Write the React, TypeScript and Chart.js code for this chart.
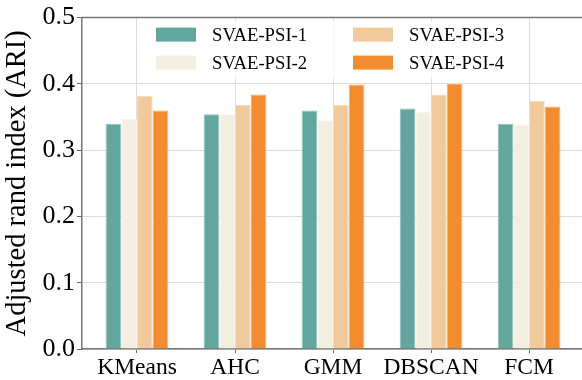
import React, { useEffect, useRef } from "react";
import { Chart, registerables } from "chart.js";

Chart.register(...registerables);

const categories = ["KMeans", "AHC", "GMM", "DBSCAN", "FCM"];
const seriesNames = ["SVAE-PSI-1", "SVAE-PSI-2", "SVAE-PSI-3", "SVAE-PSI-4"];
const psi1 = [0.340, 0.354, 0.360, 0.363, 0.340];
const psi2 = [0.347, 0.354, 0.345, 0.358, 0.338];
const psi3 = [0.382, 0.368, 0.368, 0.384, 0.374];
const psi4 = [0.360, 0.384, 0.399, 0.400, 0.366];
const yTicks = [0, 0.1, 0.2, 0.3, 0.4, 0.5];

const colors = ["#62A69E", "#F2EFE0", "#F2C99A", "#F28C30"];
const edges = ["#8CC3BD", "#F8F6EC", "#F7DAB8", "#F6AA66"];
const FONT = "'Liberation Serif', 'Times New Roman', serif";

const legendPlugin = {
  id: "customLegend",
  afterDatasetsDraw(chart: any) {
    const { ctx, chartArea } = chart;
    const l = chartArea.left;
    const t = chartArea.top;
    ctx.save();
    ctx.fillStyle = "rgba(255,255,255,0.8)";
    ctx.fillRect(l + 63, t + 3, 340, 58);
    const cols = [l + 74, l + 271];
    const rows = [t + 17, t + 45];
    const order = [
      [0, 0],
      [0, 1],
      [1, 0],
      [1, 1],
    ];
    chart.data.datasets.forEach((ds: any, i: number) => {
      const [c, r] = order[i];
      const x = cols[c];
      const y = rows[r];
      ctx.fillStyle = ds.backgroundColor;
      ctx.fillRect(x, y - 7, 40, 14);
      ctx.fillStyle = "#000";
      ctx.font = `18.7px ${FONT}`;
      ctx.textBaseline = "middle";
      ctx.textAlign = "left";
      ctx.fillText(ds.label, x + 56, y + 1);
    });
    ctx.restore();
  },
  afterDraw(chart: any) {
    const { ctx, chartArea } = chart;
    ctx.save();
    ctx.strokeStyle = "#777";
    ctx.lineWidth = 1.5;
    ctx.beginPath();
    ctx.moveTo(chartArea.left, chartArea.top);
    ctx.lineTo(chartArea.right, chartArea.top);
    ctx.stroke();
    ctx.restore();
  },
};

export default function App() {
  const ref = useRef<HTMLCanvasElement | null>(null);
  useEffect(() => {
    if (!ref.current) return;
    const all = [psi1, psi2, psi3, psi4];
    const chart = new Chart(ref.current, {
      type: "bar",
      data: {
        datasets: all.map((vals, i) => ({
          label: seriesNames[i],
          data: vals.map((v, j) => ({ x: j, y: v })),
          backgroundColor: colors[i],
          borderColor: edges[i],
          borderWidth: 1,
          categoryPercentage: 0.64,
          barPercentage: 1,
        })),
      },
      options: {
        animation: false,
        responsive: true,
        maintainAspectRatio: false,
        layout: { padding: { top: 16, right: 0, left: 0, bottom: 0 } },
        plugins: { legend: { display: false }, tooltip: { enabled: false } },
        scales: {
          x: {
            type: "linear",
            offset: false,
            min: -0.561,
            max: 4.54,
            afterBuildTicks: (scale: any) => {
              scale.ticks = categories.map((_, i) => ({ value: i }));
            },
            afterFit: (scale: any) => {
              scale.height = 31;
            },
            ticks: {
              includeBounds: false,
              stepSize: 1,
              autoSkip: false,
              maxRotation: 0,
              padding: 1,
              color: "#000",
              font: { family: FONT, size: 23.5 },
              callback: (v: any) => categories[Math.round(v)] ?? "",
            },
            grid: { offset: false, color: "#dddddd", lineWidth: 1, tickColor: "#666", tickLength: 4 },
            border: { color: "#777", width: 1.5 },
          },
          y: {
            min: 0,
            max: 0.5,
            afterBuildTicks: (scale: any) => {
              scale.ticks = yTicks.map((v) => ({ value: v }));
            },
            afterFit: (scale: any) => {
              scale.width = 82;
            },
            ticks: {
              padding: 2,
              color: "#000",
              font: { family: FONT, size: 26 },
              callback: (v: any) => Number(v).toFixed(1),
            },
            grid: { color: "#dddddd", lineWidth: 1, tickColor: "#666", tickLength: 5 },
            border: { color: "#777", width: 1.5 },
            title: {
              display: true,
              text: "Adjusted rand index (ARI)",
              color: "#000",
              font: { family: FONT, size: 28.5 },
              padding: { top: 0, bottom: 0 },
            },
          },
        },
      },
      plugins: [legendPlugin],
    });
    return () => chart.destroy();
  }, []);
  return (
    <div style={{ position: "fixed", left: 0, top: 0, width: 582, height: 380, background: "#fff" }}>
      <canvas ref={ref} />
    </div>
  );
}
